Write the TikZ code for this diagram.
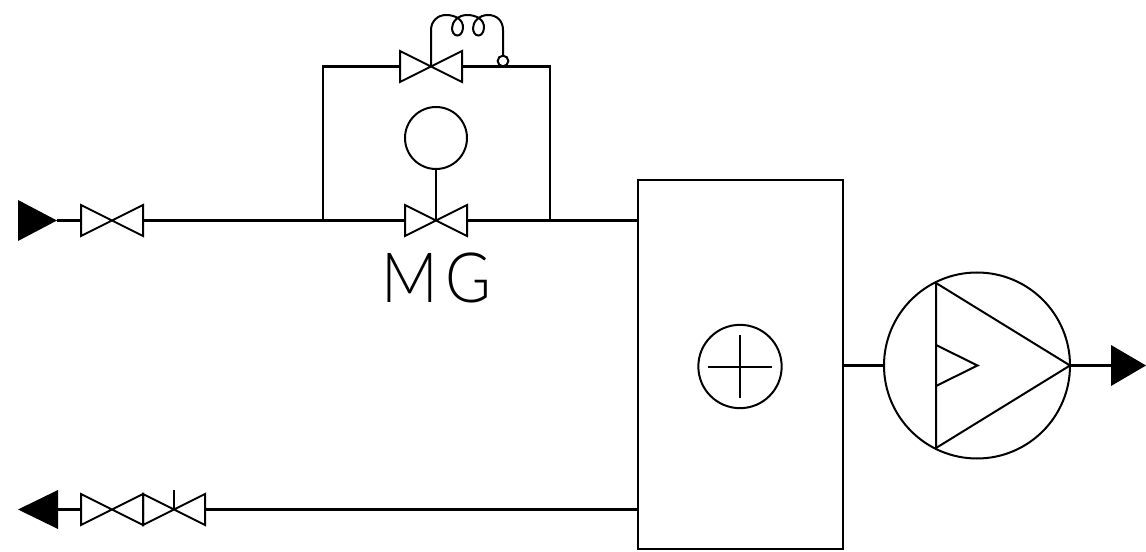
\documentclass[tikz,border=0pt]{standalone}
\usepackage{fontspec}
\usepackage{tikz}
\usetikzlibrary{calc}
\newfontfamily\tagfont{Lato Light}
\tikzset{
  thinline/.style={line width=1.5pt},
  pipe/.style={line width=2.1pt},
  flowtip/.style={fill=black,draw=none},
  ring/.style={draw,circle,line width=1.5pt,inner sep=0pt,outer sep=0pt},
}
% bow-tie valve: name, x, y
\newcommand{\valve}[3]{
  \coordinate (#1) at (#2,#3);
  \coordinate (#1-w) at ($(#1)+(-31,0)$);
  \coordinate (#1-e) at ($(#1)+(31,0)$);
  \draw [thinline,line join=miter] ($(#1)+(-31,-15.5)$) -- ($(#1)+(31,15.5)$) -- ($(#1)+(31,-15.5)$) -- ($(#1)+(-31,15.5)$) -- cycle ;
}
\begin{document}
\begin{tikzpicture}[x=0.75pt,y=0.75pt,yscale=-1,xscale=1]
\path [use as bounding box] (0,0) rectangle (1146,552);

%Valves
\valve{inlet}{112}{220.5}
\valve{bypass}{431}{66.5}
\valve{main}{436}{220.5}
\valve{retA}{112}{509.5}
\valve{retB}{174}{509.5}

%Flow arrows
\draw [flowtip] (18,200) -- (57,220.5) coordinate (intip) -- (18,241) -- cycle ;
\draw [flowtip] (1111,345) -- (1146,365.5) -- (1111,386) -- cycle ;
\coordinate (outtip) at (1111,365.5);
\draw [flowtip] (58,490) -- (18,509.5) -- (58,529) -- cycle ;
\coordinate (rettip) at (58,509.5);

%Boxes and circles
\node (box) [draw,thinline,rectangle,inner sep=0pt,outer sep=0pt,minimum width=153.75pt,minimum height=276.75pt] at (740.5,364.5) {};
\node (heater) [ring,minimum size=62.5pt] at (740,366.5) {};
\node (pump) [ring,minimum size=139.5pt] at (977,365.5) {};
\node (actuator) [ring,minimum size=46.5pt] at (436,138) {};
\node (sensor) [ring,minimum size=8pt,fill=white] at (503,61) {};

%Tie points on the box
\coordinate (boxin) at (box.west |- main);
\coordinate (boxret) at (box.west |- retA);
\coordinate (boxout) at (box.east |- pump);
\coordinate (junL) at (323,220.5);
\coordinate (junR) at (550,220.5);
\coordinate (topL) at (323,66.5);
\coordinate (topR) at (550,66.5);

%Pipes
\draw [pipe] (intip) -- (inlet-w) ;
\draw [pipe] (inlet-e) -- (main-w) ;
\draw [pipe] (main-e) -- (boxin) ;
\draw [pipe,line join=miter] (junL) -- (topL) -- (bypass-w) ;
\draw [pipe,line join=miter] (junR) -- (topR) -- (bypass-e) ;
\draw [pipe] (boxout) -- (pump.west) ;
\draw [pipe] (pump.east) -- (outtip) ;
\draw [pipe] (rettip) -- (retA-w) ;
\draw [pipe] (retB-e) -- (boxret) ;

%Stems
\draw [thinline] (actuator.south) -- (main) ;
\draw [thinline] (retB) -- (174,490) ;
\draw [thinline] (143,494) -- (143,525) ;

%Coil
\draw [thinline] (bypass) -- (431,30) .. controls (431,21) and (438,15) .. (446,15) .. controls (456,15) and (463.5,20) .. (463,28) .. controls (462.5,33) and (460,35.5) .. (457.5,35.5) .. controls (454,35.5) and (452,32) .. (452,28) .. controls (452,22) and (458,15) .. (467,15) .. controls (477,15) and (484.5,20) .. (484,28) .. controls (483.5,33) and (481,35.5) .. (478.5,35.5) .. controls (475,35.5) and (473,32) .. (473,28) .. controls (473,22) and (479,15) .. (488,15) .. controls (497,15) and (503,21) .. (503,30) -- (sensor.north) ;

%Heater cross
\draw [thinline] (708,366.5) -- (772,366.5) ;
\draw [thinline] (740,335) -- (740,398) ;

%Pump triangles
\draw [thinline,line join=miter] (936,283) -- (pump.east) -- (936,448) -- cycle ;
\draw [thinline,line join=miter] (936,345) -- (977.5,365.5) -- (936,386) ;

% Text Node
\node (tag) [inner sep=0pt,xscale=0.9] at (436.5,277.5) {\tagfont\fontsize{52}{52}\selectfont M\kern6pt G};

\end{tikzpicture}
\end{document}
